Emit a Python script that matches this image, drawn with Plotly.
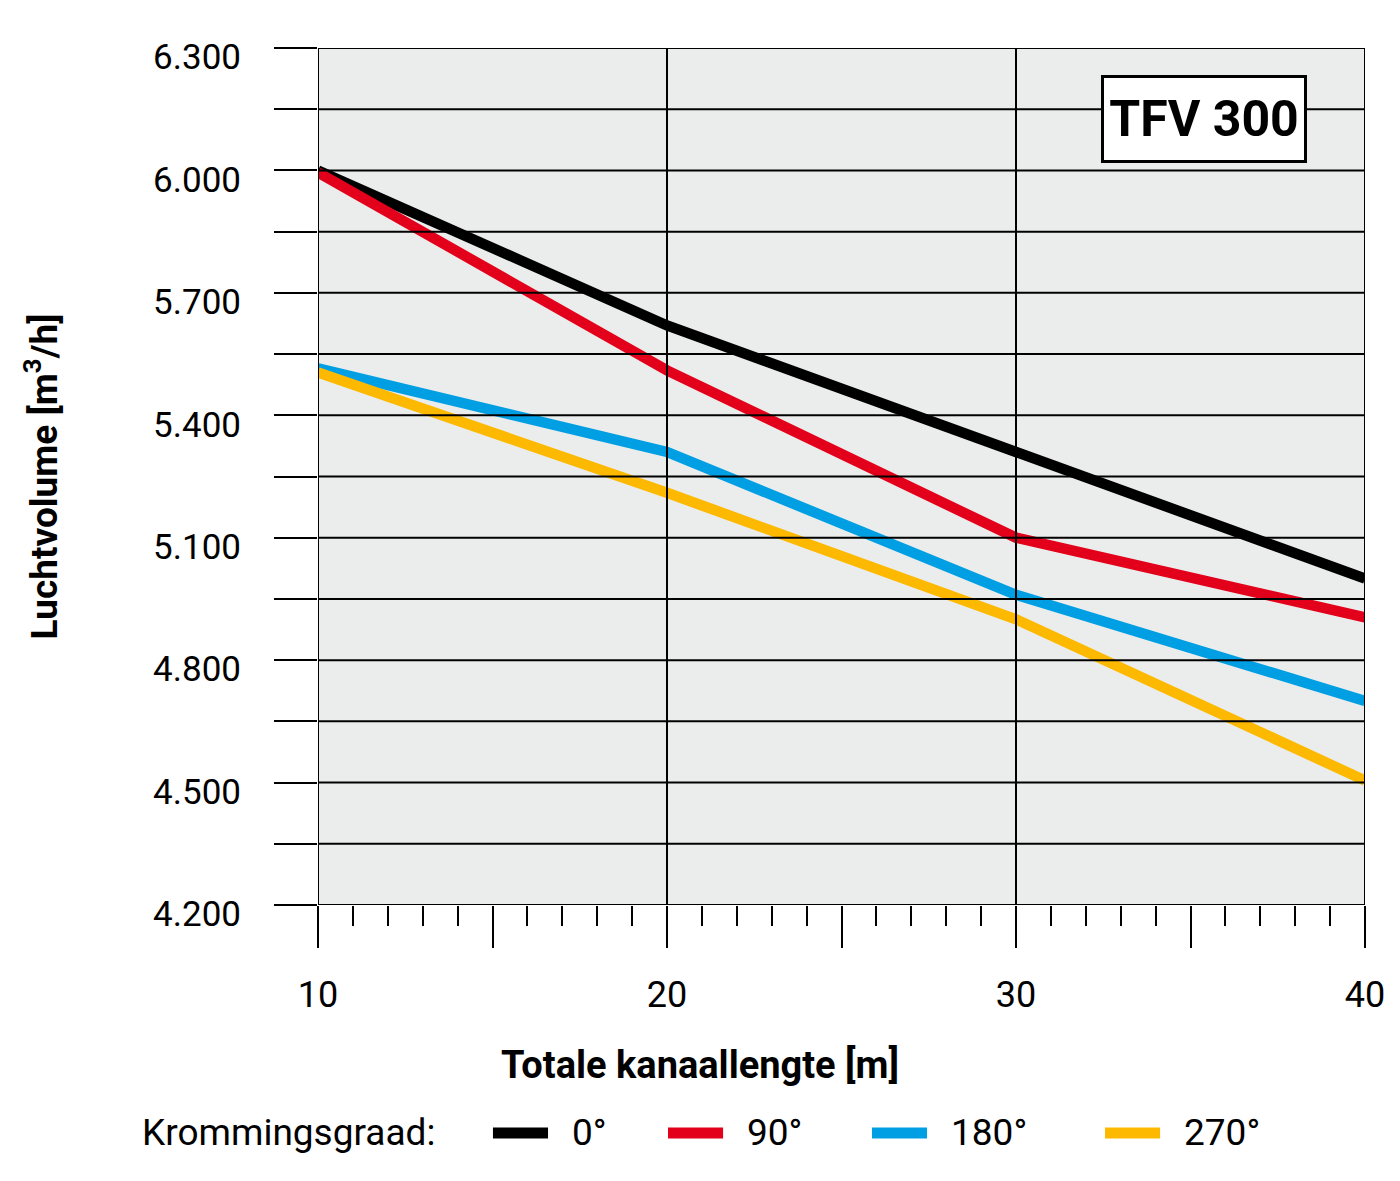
import plotly.graph_objects as go

# ---- data ----
lengths = [10, 20, 30, 40]
series_names = ["0°", "90°", "180°", "270°"]
flow_0 = [6000, 5620, 5310, 5000]
flow_90 = [5995, 5510, 5100, 4905]
flow_180 = [5515, 5310, 4960, 4700]
flow_270 = [5505, 5210, 4900, 4505]
colors = ["#000000", "#e2001a", "#009fe3", "#fdb900"]

y_ticks = list(range(4200, 6301, 150))
y_ticktext = [(f"{v // 1000}.{v % 1000:03d}" if v % 300 == 0 else "") for v in y_ticks]
x_major = [10, 15, 20, 25, 30, 35, 40]
x_ticktext = ["10", "", "20", "", "30", "", "40"]
x_grid = [10, 20, 30, 40]

FONT = "Liberation Sans Narrow, Roboto, Liberation Sans, sans-serif"

fig = go.Figure()
for name, vals, col in zip(series_names, [flow_0, flow_90, flow_180, flow_270], colors):
    fig.add_trace(go.Scatter(x=lengths, y=vals, mode="lines", name=name,
                             line=dict(color=col, width=10.5), showlegend=False))

# grid lines drawn above the curves (as in the reference)
for xv in x_grid:
    fig.add_shape(type="line", xref="x", yref="paper", x0=xv, x1=xv, y0=0, y1=1,
                  line=dict(color="black", width=2), layer="above")
for yv in y_ticks:
    fig.add_shape(type="line", xref="paper", yref="y", x0=0, x1=1, y0=yv, y1=yv,
                  line=dict(color="black", width=2), layer="above")

fig.update_layout(
    width=1400, height=1181,
    margin=dict(l=310, r=43, t=40, b=284),
    paper_bgcolor="white", plot_bgcolor="#ebedec",
    font=dict(family=FONT, color="black", size=35),
    showlegend=False,
    xaxis=dict(range=[10, 40], tickmode="array", tickvals=x_major, ticktext=x_ticktext,
               ticks="outside", ticklen=42, tickwidth=2, tickcolor="black",
               showgrid=False, zeroline=False, showline=False,
               ticklabelstandoff=16, tickfont=dict(size=36),
               minor=dict(dtick=1, ticks="outside", ticklen=20, tickwidth=2,
                          tickcolor="black", showgrid=False)),
    yaxis=dict(range=[4200, 6300], tickmode="array", tickvals=y_ticks, ticktext=y_ticktext,
               ticks="outside", ticklen=43, tickwidth=2, tickcolor="black",
               showgrid=False, zeroline=False, showline=False,
               ticklabelstandoff=26, ticklabelshift=9, tickfont=dict(size=35),
               title=dict(text="Luchtvolume [m<sup>3</sup>/h]", standoff=84,
                          font=dict(size=37, weight="bold"))),
)

# axis title (x) – placed as in the reference (left of plot centre)
fig.add_annotation(text="Totale kanaallengte [m]", xref="paper", yref="paper",
                   x=0.3648, y=-0.1867, xanchor="center", yanchor="middle", showarrow=False,
                   font=dict(size=38, weight="bold", family=FONT))

# product label box
fig.add_annotation(text="TFV 300", xref="paper", yref="paper",
                   x=0.8462, y=0.9172, xanchor="center", yanchor="middle", showarrow=False,
                   width=200, height=82, borderpad=0, borderwidth=3, bordercolor="black",
                   bgcolor="white", font=dict(size=50, weight="bold", family=FONT))

# custom legend row
legend_y = -0.266
fig.add_annotation(text="Krommingsgraad:", xref="paper", yref="paper",
                   x=-0.170, y=legend_y, xanchor="left", yanchor="middle", showarrow=False,
                   font=dict(size=37, family=FONT))
seg_x0 = [0.1671, 0.3343, 0.5291, 0.7517]
seg_len = 0.0526
label_gap = 0.0210
for name, col, x0 in zip(series_names, colors, seg_x0):
    fig.add_shape(type="line", xref="paper", yref="paper", x0=x0, x1=x0 + seg_len,
                  y0=legend_y, y1=legend_y, line=dict(color=col, width=11))
    fig.add_annotation(text=name, xref="paper", yref="paper",
                       x=x0 + seg_len + label_gap, y=legend_y, xanchor="left", yanchor="middle",
                       showarrow=False, font=dict(size=37, family=FONT))

fig.write_html("out.html")
